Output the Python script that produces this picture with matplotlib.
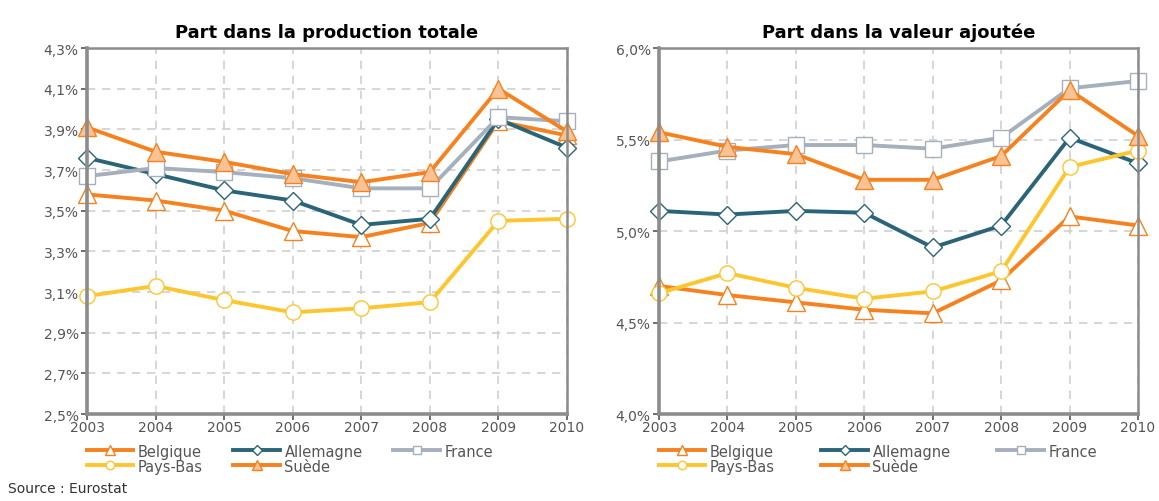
import matplotlib
matplotlib.use("Agg")
import matplotlib.pyplot as plt
from matplotlib.ticker import FuncFormatter

annees = [2003, 2004, 2005, 2006, 2007, 2008, 2009, 2010]
pays = ["Belgique", "Allemagne", "France", "Pays-Bas", "Suède"]

# Part dans la production totale (%)
prod_belgique = [3.58, 3.55, 3.50, 3.40, 3.37, 3.44, 3.94, 3.87]
prod_allemagne = [3.76, 3.68, 3.60, 3.55, 3.43, 3.46, 3.95, 3.81]
prod_france = [3.67, 3.71, 3.69, 3.66, 3.61, 3.61, 3.96, 3.94]
prod_paysbas = [3.08, 3.13, 3.06, 3.00, 3.02, 3.05, 3.45, 3.46]
prod_suede = [3.91, 3.79, 3.74, 3.68, 3.64, 3.69, 4.10, 3.89]

# Part dans la valeur ajoutée (%)
va_belgique = [4.70, 4.65, 4.61, 4.57, 4.55, 4.73, 5.08, 5.03]
va_allemagne = [5.11, 5.09, 5.11, 5.10, 4.91, 5.03, 5.51, 5.37]
va_france = [5.38, 5.44, 5.47, 5.47, 5.45, 5.51, 5.78, 5.82]
va_paysbas = [4.66, 4.77, 4.69, 4.63, 4.67, 4.78, 5.35, 5.44]
va_suede = [5.54, 5.46, 5.42, 5.28, 5.28, 5.41, 5.77, 5.52]

styles = {
    "Belgique": dict(color="#F5821F", marker="^", mfc="white", mec="#F5821F"),
    "Allemagne": dict(color="#2A6478", marker="D", mfc="white", mec="#2A6478"),
    "France": dict(color="#A6AFBC", marker="s", mfc="white", mec="#A6AFBC"),
    "Pays-Bas": dict(color="#FDC62F", marker="o", mfc="white", mec="#FDC62F"),
    "Suède": dict(color="#F5821F", marker="^", mfc="#F9C396", mec="#F5821F"),
}
tailles = {"^": 12.5, "D": 9, "s": 11, "o": 11}

gris_axe = "#8C8C8C"
gris_texte = "#555555"

fig = plt.figure(figsize=(11.59, 5.02), dpi=100)


def tracer(rect, series, titre, ylim, yticks, espacement):
    ax = fig.add_axes(rect)
    lignes = {}
    for nom, valeurs in zip(pays, series):
        st = styles[nom]
        lignes[nom], = ax.plot(annees, valeurs, color=st["color"], lw=2.8, marker=st["marker"],
                               ms=tailles[st["marker"]], mfc=st["mfc"], mec=st["mec"], mew=1.0,
                               label=nom, clip_on=False)
    ax.set_xlim(2003, 2010)
    ax.set_ylim(*ylim)
    ax.set_xticks(annees)
    ax.set_yticks(yticks)
    ax.yaxis.set_major_formatter(FuncFormatter(lambda v, p: f"{v:.1f}%".replace(".", ",")))
    ax.grid(True, color="#D0D0D0", ls=(0, (5, 4)), lw=1.2)
    ax.set_axisbelow(True)
    for s in ["left", "bottom"]:
        ax.spines[s].set_color(gris_axe)
        ax.spines[s].set_linewidth(2.6)
    for s in ["top", "right"]:
        ax.spines[s].set_color(gris_axe)
        ax.spines[s].set_linewidth(1.8)
    ax.tick_params(axis="both", colors=gris_texte, labelsize=10, length=4, width=1.2)
    ax.tick_params(axis="x", pad=0)
    ax.tick_params(axis="y", pad=2)
    ax.set_title(titre, fontsize=13, fontweight="bold", pad=8)

    # ordre pour remplir ligne par ligne avec 3 colonnes
    ordre = ["Belgique", "Pays-Bas", "Allemagne", "Suède", "France"]
    ax.legend([lignes[n] for n in ordre], ordre, ncol=3, loc="upper left",
              bbox_to_anchor=(-0.028, -0.045), frameon=False, fontsize=10.5,
              handlelength=3.2, handletextpad=0.3, columnspacing=espacement,
              labelspacing=0.0, labelcolor=gris_texte, markerscale=0.55)
    return ax


tracer([0.0751, 0.1733, 0.4141, 0.729],
       [prod_belgique, prod_allemagne, prod_france, prod_paysbas, prod_suede],
       "Part dans la production totale", (2.5, 4.3),
       [2.5, 2.7, 2.9, 3.1, 3.3, 3.5, 3.7, 3.9, 4.1, 4.3], 2.1)
tracer([0.5686, 0.1733, 0.4133, 0.729],
       [va_belgique, va_allemagne, va_france, va_paysbas, va_suede],
       "Part dans la valeur ajoutée", (4.0, 6.0),
       [4.0, 4.5, 5.0, 5.5, 6.0], 3.2)

fig.text(0.007, 0.018, "Source : Eurostat", fontsize=10, color="#333333")

fig.savefig("out.png", dpi=100)
